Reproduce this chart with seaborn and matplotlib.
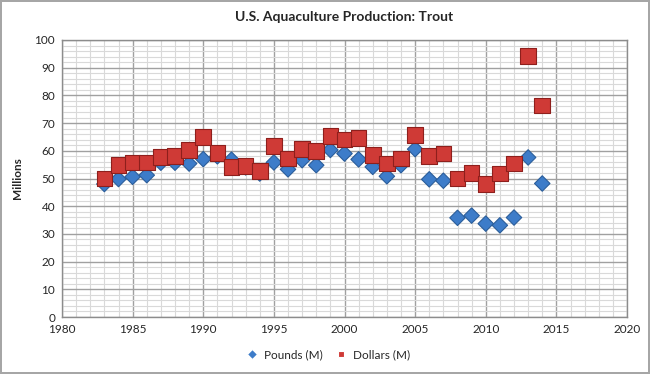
import pandas as pd
import matplotlib.pyplot as plt
import seaborn as sns
from matplotlib.ticker import MultipleLocator

years = list(range(1983, 2015))
pounds = [48.0, 49.8, 50.6, 51.2, 55.7, 55.7, 55.4, 57.0, 58.0, 56.8,
          54.0, 51.8, 55.8, 53.3, 56.6, 54.8, 60.3, 59.0, 56.9, 54.2,
          50.8, 54.8, 60.6, 49.7, 49.2, 35.8, 36.6, 33.7, 33.1, 35.9,
          57.6, 48.2]
dollars = [50.0, 54.8, 55.7, 55.8, 57.8, 58.2, 60.2, 65.0, 59.3, 54.2,
           54.6, 52.7, 61.7, 57.2, 60.6, 60.0, 65.3, 64.0, 64.7, 58.4,
           55.4, 57.2, 65.7, 58.1, 59.0, 50.0, 52.0, 48.0, 51.8, 55.4,
           94.2, 76.3]
series = ["Pounds (M)", "Dollars (M)"]

df = pd.concat([
    pd.DataFrame({"Year": years, "Value": pounds, "Series": series[0]}),
    pd.DataFrame({"Year": years, "Value": dollars, "Series": series[1]}),
])

sns.set_style("white")
plt.rcParams['font.family'] = ['Lato', 'DejaVu Sans']

fig = plt.figure(figsize=(6.5, 3.74), dpi=100)
fig.patch.set_edgecolor('#a6a6a6')
fig.patch.set_linewidth(1.5)
ax = fig.add_axes([62 / 650, 1 - 317 / 374, 565 / 650, 277 / 374])

sns.scatterplot(data=df, x="Year", y="Value", hue="Series", style="Series",
                markers={"Pounds (M)": "D", "Dollars (M)": "s"},
                palette={"Pounds (M)": "#3d7cc9", "Dollars (M)": "#cf3a36"},
                s=100, linewidth=0.8, ax=ax, zorder=3)
# darker edges and sizes per series
coll = ax.collections[0]
coll.set_edgecolors(['#2a5d9a'] * len(pounds) + ['#8e1f1c'] * len(dollars))
coll.set_sizes([62] * len(pounds) + [125] * len(dollars))

ax.set_xlim(1980, 2020)
ax.set_ylim(0, 100)
ax.xaxis.set_major_locator(MultipleLocator(5))
ax.xaxis.set_minor_locator(MultipleLocator(1))
ax.yaxis.set_major_locator(MultipleLocator(10))
ax.yaxis.set_minor_locator(MultipleLocator(2))
ax.grid(True, which='major', color='#a0a0a0', linewidth=1.0, zorder=0)
ax.grid(True, which='minor', color='#d9d9d9', linewidth=0.8, zorder=0)
ax.set_axisbelow(True)
for sp in ax.spines.values():
    sp.set_color('#8c8c8c')
    sp.set_linewidth(1)
ax.tick_params(axis='both', which='both', length=0, labelsize=8.5, pad=5)

ax.set_title("U.S. Aquaculture Production: Trout", fontsize=10, fontweight='bold', pad=14)
ax.set_xlabel("")
ax.set_ylabel("Millions", fontsize=8.5, fontweight='bold', labelpad=8)

sns.move_legend(ax, "center", bbox_to_anchor=(0.5, 1 - 355 / 374),
                bbox_transform=fig.transFigure, ncol=2,
                frameon=False, title=None, fontsize=8.5, handletextpad=0.0,
                columnspacing=0.6, markerscale=0.5)

plt.savefig("out.png", dpi=100)
